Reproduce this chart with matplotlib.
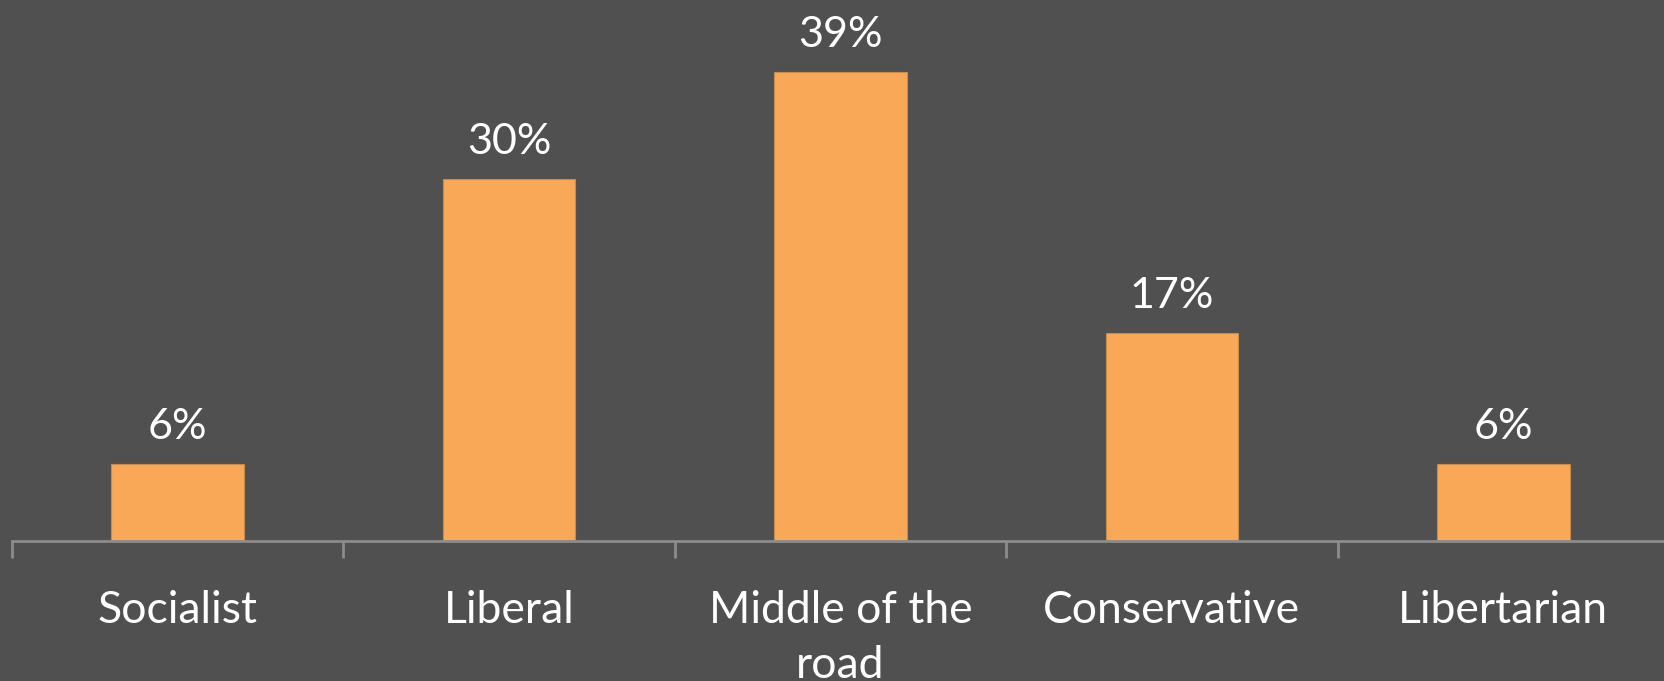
import matplotlib.pyplot as plt

# Chart data
categories = ["Socialist", "Liberal", "Middle of the\nroad", "Conservative", "Libertarian"]
values = [6.4, 30.1, 39.0, 17.3, 6.4]  # percent

bg = "#505050"
barColour = "#F9A857"
axisColour = "#8C8C8C"

plt.rcParams['font.family'] = ['Lato', 'DejaVu Sans']

fig = plt.figure(figsize=(16.65, 6.81), dpi=100, facecolor=bg)
ax = fig.add_axes([12 / 1665, 140 / 681, 1657 / 1665, 541 / 681])
ax.set_facecolor(bg)

x = range(len(categories))
bars = ax.bar(x, values, width=0.4, color=barColour, edgecolor="#C98A4A", linewidth=0.8)

# value labels above the bars
for b, v in zip(bars, values):
    ax.text(b.get_x() + b.get_width() / 2, v + 1.5, "{:.0f}%".format(v),
            ha="center", va="bottom", color="white", fontsize=31)

ax.set_xlim(-0.5, len(categories) - 0.5)
ax.set_ylim(0, 45)

for side in ["top", "right", "left"]:
    ax.spines[side].set_visible(False)
ax.spines["bottom"].set_color(axisColour)
ax.spines["bottom"].set_linewidth(2)

ax.set_yticks([])
# tick marks between categories, labels centred under bars
ax.set_xticks([i - 0.5 for i in range(len(categories) + 1)])
ax.set_xticklabels([])
ax.tick_params(axis="x", which="major", direction="out", length=12, width=2, color=axisColour)
ax.set_xticks(list(x), minor=True)
ax.set_xticklabels(categories, minor=True, color="white", fontsize=32, linespacing=1.45)
ax.tick_params(axis="x", which="minor", length=0, pad=35)
for lbl in ax.get_xticklabels(minor=True):
    lbl.set_verticalalignment("top")

fig.savefig("out.png", dpi=100, facecolor=bg)
